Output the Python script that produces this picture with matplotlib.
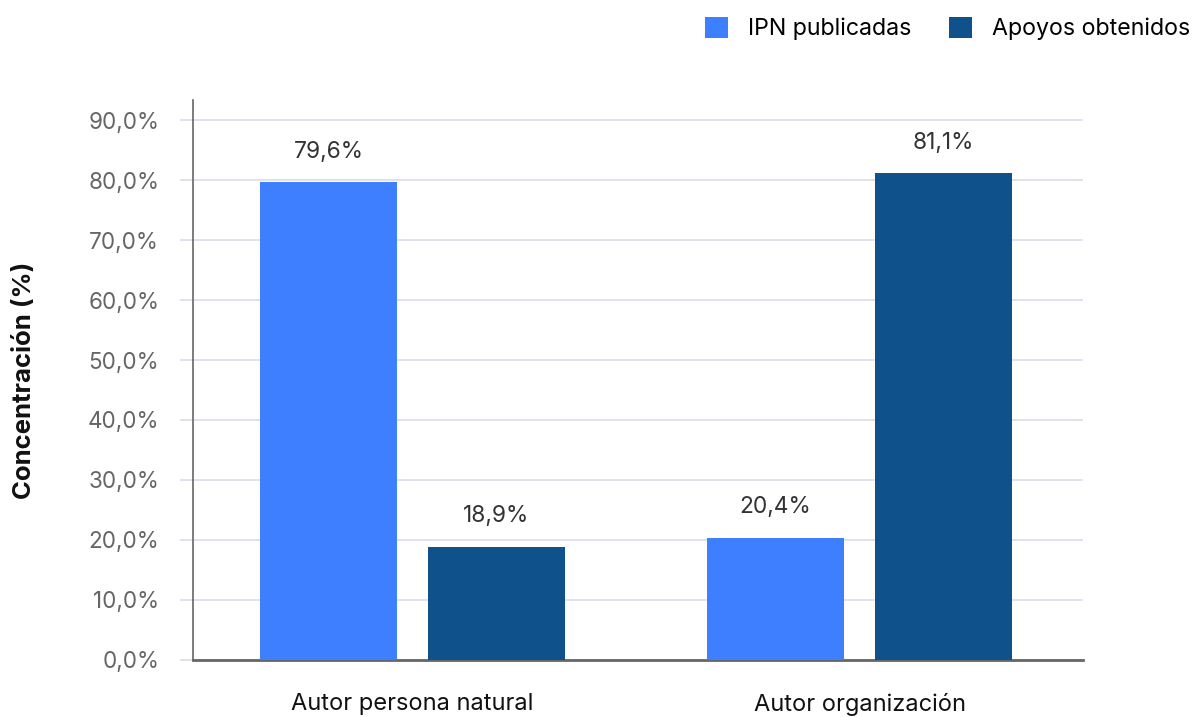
import matplotlib.pyplot as plt
import numpy as np

plt.rcParams['font.family'] = ['Inter', 'DejaVu Sans']

categories = ['Autor persona natural', 'Autor organización']
series_names = ['IPN publicadas', 'Apoyos obtenidos']
ipn_publicadas = [79.6, 20.4]
apoyos_obtenidos = [18.9, 81.1]
y_ticks = [0, 10, 20, 30, 40, 50, 60, 70, 80, 90]

colors = ['#3d7fff', '#0e518b']

fig = plt.figure(figsize=(11.93, 7.17), dpi=100)
ax = fig.add_axes([0.1618, 0.0795, 0.746, 0.781])

x = np.arange(len(categories))
width = 0.306
offset = 0.188

for vals, off, col, name in zip([ipn_publicadas, apoyos_obtenidos], [-offset, offset],
                                colors, series_names):
    bars = ax.bar(x + off, vals, width, color=col, label=name, zorder=3)
    for b, v in zip(bars, vals):
        ax.annotate(f"{v:.1f}%".replace('.', ','),
                    (b.get_x() + b.get_width() / 2, v),
                    xytext=(0, 14), textcoords='offset points',
                    ha='center', va='bottom', fontsize=16.4, color='#333333')

ax.set_xlim(-0.491, 1.5)
ax.set_ylim(0, 93.33)
ax.set_yticks(y_ticks)
ax.set_yticklabels([f"{t:.1f}%".replace('.', ',') for t in y_ticks])
ax.set_xticks(x)
ax.set_xticklabels(categories)

ax.grid(axis='y', color='#dcdcea', linewidth=1.2, zorder=0)
ax.tick_params(axis='y', length=9.4, color='#dcdcea', width=1.2, pad=15,
               labelsize=16.2, labelcolor='#666666')
ax.tick_params(axis='x', length=0, pad=24, labelsize=17, labelcolor='#111111')

for s in ['top', 'right']:
    ax.spines[s].set_visible(False)
ax.spines['left'].set_color('#666666')
ax.spines['left'].set_linewidth(1.2)
ax.spines['bottom'].set_color('#666666')
ax.spines['bottom'].set_linewidth(2)

ax.set_ylabel('Concentración (%)', fontsize=18.5, fontweight='bold', color='#111111')
ax.yaxis.set_label_coords(-0.176, 0.5)

fig.legend(loc='upper right', bbox_to_anchor=(1.009, 0.996), ncol=2, frameon=False,
           fontsize=16.7, handlelength=1.0, handleheight=1.0, handletextpad=0.85,
           columnspacing=1.6, borderaxespad=0.2)

fig.savefig('out.png', dpi=100)
